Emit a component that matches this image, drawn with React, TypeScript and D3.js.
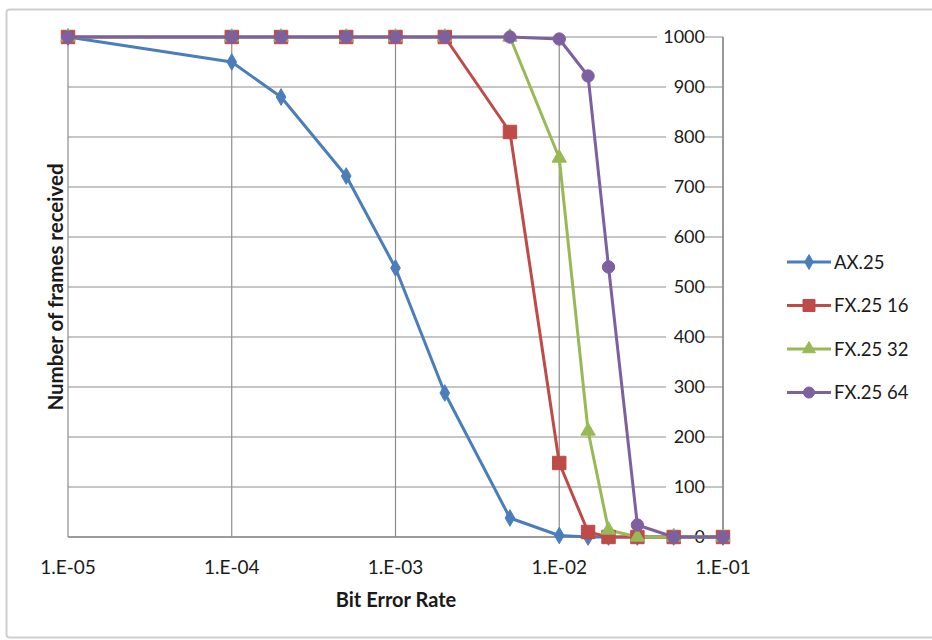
import React from "react";
import * as d3 from "d3";

const berValues = [1e-5, 1e-4, 2e-4, 5e-4, 1e-3, 2e-3, 5e-3, 1e-2, 1.5e-2, 2e-2, 3e-2, 5e-2, 1e-1];
const ax25 = [1000, 950, 880, 722, 538, 288, 38, 3, 0, 0, 0, 0, 0];
const fx16 = [1000, 1000, 1000, 1000, 1000, 1000, 810, 148, 10, 0, 0, 0, 0];
const fx32 = [1000, 1000, 1000, 1000, 1000, 1000, 1000, 758, 212, 14, 0, 0, 0];
const fx64 = [1000, 1000, 1000, 1000, 1000, 1000, 1000, 996, 922, 540, 24, 0, 0];
const seriesNames = ["AX.25", "FX.25 16", "FX.25 32", "FX.25 64"];
const seriesColors = ["#4A7EBB", "#BE4B48", "#98B954", "#7D60A0"];
const seriesMarkers = ["diamond", "square", "triangle", "circle"];
const xTicks = [1e-5, 1e-4, 1e-3, 1e-2, 1e-1];
const xTickLabels = ["1.E-05", "1.E-04", "1.E-03", "1.E-02", "1.E-01"];
const yTicks = [0, 100, 200, 300, 400, 500, 600, 700, 800, 900, 1000];

const FONT = "Lato, 'Open Sans', sans-serif";

function markerPath(type: string, size: number) {
  const sym =
    type === "diamond" ? d3.symbolDiamond :
    type === "square" ? d3.symbolSquare :
    type === "triangle" ? d3.symbolTriangle : d3.symbolCircle;
  return d3.symbol().type(sym).size(size)()!;
}
const markerSize: Record<string, number> = { diamond: 80, square: 180, triangle: 90, circle: 120 };

export default function App() {
  const W = 932, H = 640;
  const x = d3.scaleLog().domain([1e-5, 1e-1]).range([68, 723]);
  const y = d3.scaleLinear().domain([0, 1000]).range([537, 37]);
  const data = [ax25, fx16, fx32, fx64];
  const line = d3.line<number>().x((_, i) => x(berValues[i])).y((d) => y(d));

  return (
    <svg width={W} height={H} style={{ position: "absolute", left: 0, top: 0, background: "#fff" }}>
      <rect x={0} y={0} width={W} height={H} fill="#fff" />
      <rect x={6.5} y={9.5} width={940} height={628} fill="#fff" stroke="#cfcfcf" strokeWidth={2} rx={3} />
      {/* gridlines */}
      {yTicks.map((t) => (
        <line key={"gy" + t} x1={x(1e-5)} x2={x(1e-1)} y1={y(t)} y2={y(t)} stroke="#8c8c8c" strokeWidth={1.2} />
      ))}
      {xTicks.map((t) => (
        <line key={"gx" + t} x1={x(t)} x2={x(t)} y1={y(1000)} y2={y(0)} stroke="#8c8c8c" strokeWidth={1.2} />
      ))}
      <line x1={x(1e-1)} x2={x(1e-1)} y1={y(1000)} y2={y(0)} stroke="#8c8c8c" strokeWidth={1.5} />
      <line x1={x(1e-5)} x2={x(1e-1)} y1={y(0)} y2={y(0)} stroke="#8c8c8c" strokeWidth={1.5} />
      {/* y tick labels with background */}
      {yTicks.map((t) => (
        <g key={"yl" + t}>
          <rect x={t === 0 ? 687 : t === 1000 ? 657 : 666} y={y(t) - 10} width={t === 0 ? 20 : t === 1000 ? 48 : 38} height={20} fill="#fff" />
          <text x={705} y={y(t)} dy="0.36em" textAnchor="end" fontFamily={FONT} fontSize={18} fill="#1a1a1a">{t}</text>
        </g>
      ))}
      {/* series */}
      {data.map((s, si) => (
        <path key={"l" + si} d={line(s)!} fill="none" stroke={seriesColors[si]} strokeWidth={3} strokeLinejoin="round" />
      ))}
      {data.map((s, si) =>
        s.map((v, i) => (
          <path key={"m" + si + "-" + i} d={markerPath(seriesMarkers[si], markerSize[seriesMarkers[si]])}
            transform={`translate(${x(berValues[i])},${y(v)})`} fill={seriesColors[si]} stroke={seriesColors[si]} strokeWidth={1} />
        ))
      )}
      {/* x tick labels */}
      {xTicks.map((t, i) => (
        <text key={"xl" + t} x={x(t)} y={567} dy="0.36em" textAnchor="middle" fontFamily={FONT} fontSize={19} fill="#1a1a1a">{xTickLabels[i]}</text>
      ))}
      <text x={396} y={600} dy="0.36em" textAnchor="middle" fontFamily={FONT} fontSize={20} fontWeight="bold" fill="#1a1a1a">Bit Error Rate</text>
      <text transform={`translate(56,287) rotate(-90)`} dy="0.36em" textAnchor="middle" fontFamily={FONT} fontSize={20.5} fontWeight="bold" fill="#1a1a1a">Number of frames received</text>
      {/* legend */}
      {seriesNames.map((n, i) => {
        const ly = 262 + i * 43.5;
        return (
          <g key={"lg" + n}>
            <line x1={787} x2={831} y1={ly} y2={ly} stroke={seriesColors[i]} strokeWidth={3} />
            <path d={markerPath(seriesMarkers[i], markerSize[seriesMarkers[i]] * 0.8)} transform={`translate(809,${ly})`} fill={seriesColors[i]} stroke={seriesColors[i]} />
            <text x={834} y={ly} dy="0.36em" fontFamily={FONT} fontSize={18.5} fill="#1a1a1a">{n}</text>
          </g>
        );
      })}
    </svg>
  );
}
